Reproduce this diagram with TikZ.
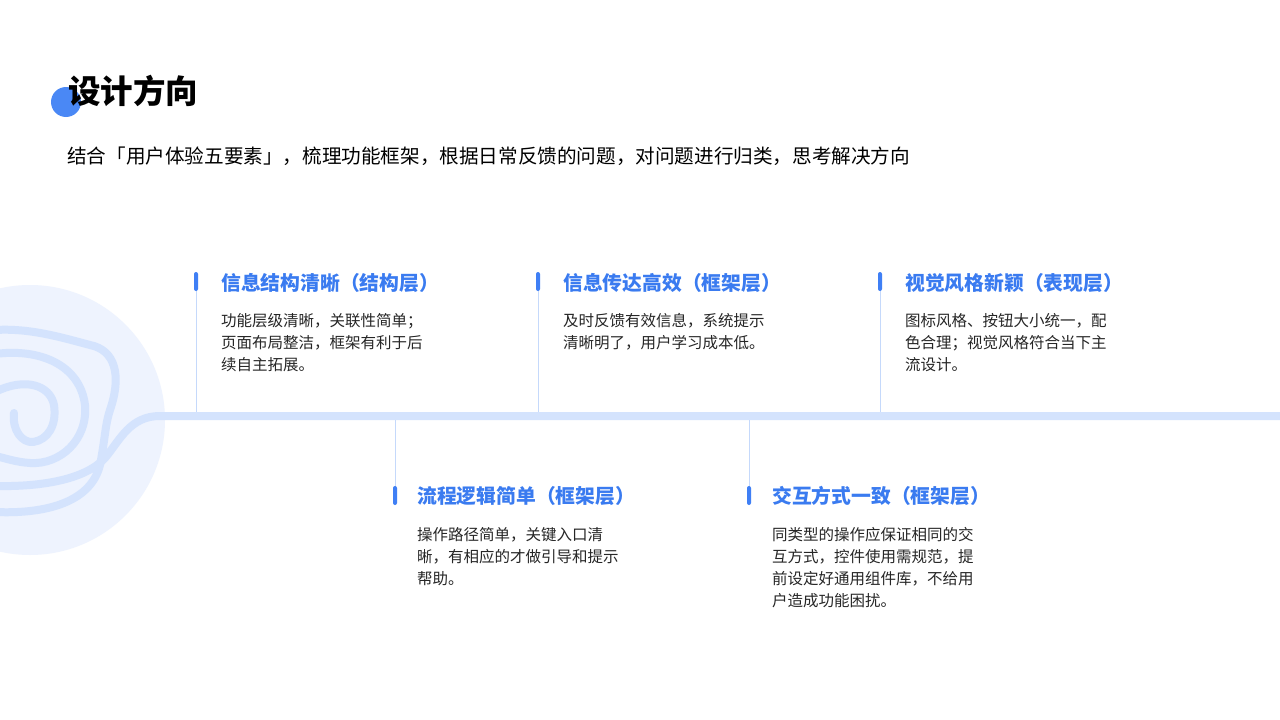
\documentclass[tikz,border=0pt]{standalone}
\usepackage{fontspec}
\setmainfont{Noto Sans CJK SC}
\begin{document}
\begin{tikzpicture}[x=1pt,y=-1pt,
  deco/.style={draw=spiral,line width=8pt,line cap=round,line join=round},
  ttl/.style={anchor=west,text=tblue,font=\fontsize{19.8}{22}\selectfont\bfseries,inner sep=0},
  body/.style={anchor=north west,align=left,font=\fontsize{15.5}{22}\selectfont,inner sep=0,text=black!85},
  pin/.style={fill=mblue,rounded corners=2pt},
  stem/.style={draw=stemc,line width=1pt}]
\definecolor{spiral}{HTML}{D4E3FD}
\definecolor{disc}{HTML}{EEF3FE}
\definecolor{tblue}{HTML}{3A7BF0}
\definecolor{mblue}{HTML}{3F7FF5}
\definecolor{stemc}{HTML}{C5D9FB}
\definecolor{dot}{HTML}{4A88F5}
\useasboundingbox (0,0) rectangle (1280,720);
\fill[white] (0,0) rectangle (1280,720);
\begin{scope}
\clip (0,0) rectangle (1280,720);
\fill[disc] (30,420) circle (135);
\draw[deco] (1284,416) -- (160,416) .. controls (130,416) and (120,440) .. (105,458) .. controls (85,480) and (40,487) .. (-5,486);
\draw[deco] (-5,512) .. controls (40,514) and (90,505) .. (100,465) .. controls (105,440) and (105,425) .. (110,410) .. controls (122,375) and (115,350) .. (90,345) .. controls (60,337) and (30,328) .. (-5,330);
\draw[deco] (-5,354) .. controls (40,348) and (80,365) .. (85,405) .. controls (88,440) and (60,465) .. (30,463) .. controls (15,462) and (5,458) .. (-5,456);
\draw[deco] (14,413) .. controls (12,430) and (22,443) .. (33,442) .. controls (48,440) and (57,425) .. (54,405) .. controls (50,385) and (25,377) .. (-5,392);
\end{scope}
% heading
\fill[dot] (66,102) circle (15);
\node[anchor=west,inner sep=0,font=\fontsize{32.5}{34}\selectfont\bfseries] (h) at (68,91) {设计方向};
\node[anchor=west,inner sep=0,font=\fontsize{19.6}{22}\selectfont] (sub) at (67,156) {结合「用户体验五要素」，梳理功能框架，根据日常反馈的问题，对问题进行归类，思考解决方向};
% top items
\foreach \x in {196,538,880}{
  \draw[stem] (\x,290) -- (\x,412);
  \fill[pin] (\x-2,272) rectangle (\x+2,291);
}
\node[ttl] (ta) at (221,283) {信息结构清晰（结构层）};
\node[body] (ba) at (221,313) {功能层级清晰，关联性简单；\\页面布局整洁，框架有利于后\\续自主拓展。};
\node[ttl] (tb) at (563,283) {信息传达高效（框架层）};
\node[body] (bb) at (563,313) {及时反馈有效信息，系统提示\\清晰明了，用户学习成本低。};
\node[ttl] (tc) at (905,283) {视觉风格新颖（表现层）};
\node[body] (bc) at (905,313) {图标风格、按钮大小统一，配\\色合理；视觉风格符合当下主\\流设计。};
% bottom items
\foreach \x in {395,749}{
  \draw[stem] (\x,420) -- (\x,487);
  \fill[pin] (\x-2,486) rectangle (\x+2,505);
}
\node[ttl] (td) at (417,496) {流程逻辑简单（框架层）};
\node[body] (bd) at (417,527) {操作路径简单，关键入口清\\晰，有相应的才做引导和提示\\帮助。};
\node[ttl] (te) at (772,496) {交互方式一致（框架层）};
\node[body] (be) at (772,527) {同类型的操作应保证相同的交\\互方式，控件使用需规范，提\\前设定好通用组件库，不给用\\户造成功能困扰。};
\end{tikzpicture}
\end{document}
